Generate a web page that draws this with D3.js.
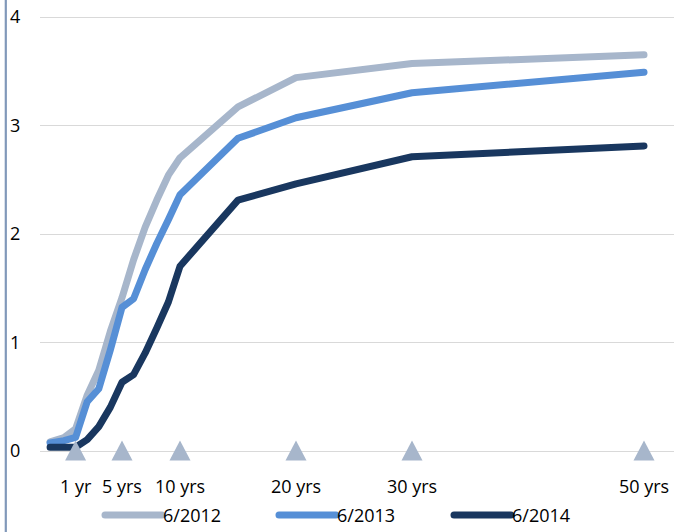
<!DOCTYPE html>
<html lang="en">
<head>
    <meta charset="UTF-8">
    <title>Yield curves</title>
    <script src="https://d3js.org/d3.v7.min.js"></script>
    <style>
        body { margin: 0; background: #fff; }
        svg text { font-family: "Open Sans", sans-serif; font-size: 18px; fill: #000; }
    </style>
</head>
<body>
<div id="chart"></div>

<script>
    // Maturities (years) of the curve points
    const maturities = [-1.2, 0, 1, 2, 3, 4, 5, 6, 7, 8, 9, 10, 15, 20, 30, 50];

    const yields2012 = [0.08, 0.12, 0.20, 0.51, 0.74, 1.10, 1.41, 1.76, 2.06, 2.31, 2.54, 2.70, 3.17, 3.44, 3.57, 3.65];
    const yields2013 = [0.07, 0.09, 0.12, 0.45, 0.57, 0.93, 1.32, 1.40, 1.67, 1.91, 2.13, 2.36, 2.88, 3.07, 3.30, 3.49];
    const yields2014 = [0.03, 0.03, 0.03, 0.10, 0.22, 0.40, 0.63, 0.70, 0.90, 1.13, 1.37, 1.70, 2.31, 2.46, 2.71, 2.81];

    const seriesNames = ["6/2012", "6/2013", "6/2014"];
    const seriesColors = ["#a7b6cb", "#568fd6", "#19375f"];

    // Marker positions along the maturity axis and their labels
    const markerYears = [1, 5, 10, 20, 30, 50];
    const markerLabels = ["1 yr", "5 yrs", "10 yrs", "20 yrs", "30 yrs", "50 yrs"];

    const yTicks = [0, 1, 2, 3, 4];

    const width = 674;
    const height = 532;

    const svg = d3.select("#chart").append("svg")
        .attr("width", width)
        .attr("height", height);

    const x = d3.scaleLinear().domain([-2, 53]).range([40.8, 678.8]);
    const y = d3.scaleLinear().domain([0, 4]).range([450.5, 16.9]);

    // left border bar
    svg.append("line")
        .attr("x1", 5.8).attr("x2", 5.8)
        .attr("y1", 0).attr("y2", height)
        .attr("stroke", "#8198b9")
        .attr("stroke-width", 2.2);

    // gridlines
    svg.append("g")
        .selectAll("line")
        .data(yTicks)
        .enter().append("line")
        .attr("x1", 40).attr("x2", width)
        .attr("y1", d => Math.round(y(d)) + 0.5)
        .attr("y2", d => Math.round(y(d)) + 0.5)
        .attr("stroke", "#d9d9d9")
        .attr("stroke-width", 1);

    // y tick labels
    svg.append("g")
        .selectAll("text")
        .data(yTicks)
        .enter().append("text")
        .attr("x", 10)
        .attr("y", d => y(d) + 6.5)
        .text(d => d);

    // curves
    const all = [yields2012, yields2013, yields2014];
    const line = d3.line()
        .x((d, i) => x(maturities[i]))
        .y(d => y(d));

    svg.append("g")
        .selectAll("path")
        .data(all)
        .enter().append("path")
        .attr("d", line)
        .attr("fill", "none")
        .attr("stroke", (d, i) => seriesColors[i])
        .attr("stroke-width", 7)
        .attr("stroke-linecap", "round")
        .attr("stroke-linejoin", "round");

    // triangle markers on the zero line
    svg.append("g")
        .selectAll("path")
        .data(markerYears)
        .enter().append("path")
        .attr("d", d => {
            const cx = x(d), base = y(0) + 10, top = y(0) - 10;
            return `M${cx - 10.5},${base}L${cx},${top}L${cx + 10.5},${base}Z`;
        })
        .attr("fill", "#a7b6cb");

    // maturity labels
    svg.append("g")
        .selectAll("text")
        .data(markerYears)
        .enter().append("text")
        .attr("x", d => x(d))
        .attr("y", 493)
        .attr("text-anchor", "middle")
        .text((d, i) => markerLabels[i]);

    // legend
    const legendX = [105, 279, 454];
    const legend = svg.append("g")
        .selectAll("g")
        .data(seriesNames)
        .enter().append("g")
        .attr("transform", (d, i) => `translate(${legendX[i]},515)`);

    legend.append("line")
        .attr("x1", 0).attr("x2", 57)
        .attr("y1", 0).attr("y2", 0)
        .attr("stroke", (d, i) => seriesColors[i])
        .attr("stroke-width", 7)
        .attr("stroke-linecap", "round");

    legend.append("text")
        .attr("x", 58)
        .attr("y", 7)
        .text(d => d);
</script>
</body>
</html>
